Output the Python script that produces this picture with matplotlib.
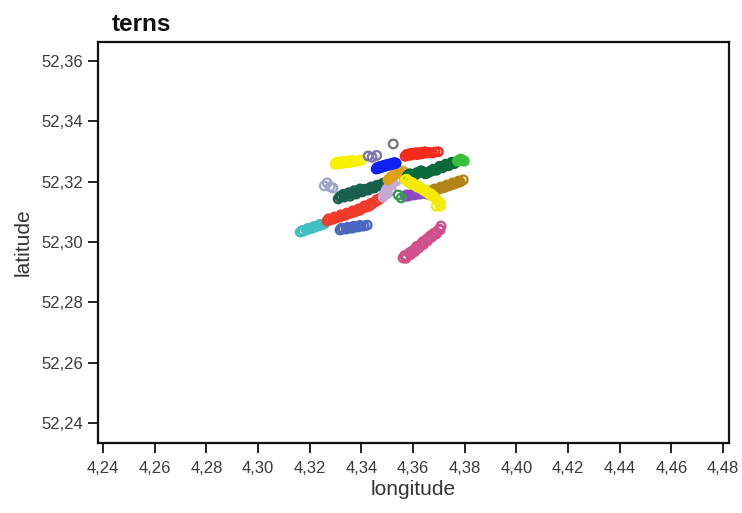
import matplotlib
matplotlib.use("Agg")
import matplotlib.pyplot as plt
from matplotlib.ticker import FuncFormatter

plt.rcParams['font.family'] = ['Liberation Sans', 'DejaVu Sans']

# GPS fixes per tern (longitude, latitude), drawing order back to front
pink_lon = [4.3561, 4.3567, 4.3573, 4.3585, 4.3591, 4.3596, 4.3608, 4.3613, 4.3619, 4.3631, 4.3637, 4.3643,
            4.3654, 4.3660, 4.3666, 4.3677, 4.3683, 4.3689, 4.3701, 4.3708,
            4.3572, 4.3590, 4.3606, 4.3622, 4.3640, 4.3656, 4.3672, 4.3690, 4.3704]
pink_lat = [52.2947, 52.2955, 52.2954, 52.2964, 52.2961, 52.2970, 52.2977, 52.2985, 52.2987, 52.2993, 52.3000, 52.3003,
            52.3010, 52.3014, 52.3020, 52.3026, 52.3030, 52.3033, 52.3043, 52.3053,
            52.2946, 52.2958, 52.2968, 52.2980, 52.2992, 52.3004, 52.3016, 52.3027, 52.3040]

cyan_lon = [4.3163, 4.3170, 4.3174, 4.3186, 4.3192, 4.3197, 4.3209, 4.3215, 4.3221, 4.3232, 4.3238, 4.3244, 4.3256]
cyan_lat = [52.3033, 52.3038, 52.3036, 52.3040, 52.3045, 52.3043, 52.3046, 52.3051, 52.3050, 52.3053, 52.3058, 52.3056, 52.3060]

steel_lon = [4.3317, 4.3323, 4.3329, 4.3341, 4.3347, 4.3352, 4.3364, 4.3370, 4.3376, 4.3387, 4.3393, 4.3399, 4.3410, 4.3422]
steel_lat = [52.3040, 52.3046, 52.3043, 52.3043, 52.3049, 52.3046, 52.3046, 52.3052, 52.3050, 52.3050, 52.3055, 52.3053, 52.3053, 52.3056]

red_low_lon = [4.3267, 4.3273, 4.3279, 4.3290, 4.3296, 4.3302, 4.3314, 4.3320, 4.3325, 4.3337, 4.3343, 4.3348,
               4.3360, 4.3366, 4.3372, 4.3383, 4.3389, 4.3395, 4.3406, 4.3412, 4.3418, 4.3430, 4.3436, 4.3441,
               4.3453, 4.3459, 4.3465, 4.3476]
red_low_lat = [52.3070, 52.3077, 52.3073, 52.3076, 52.3083, 52.3080, 52.3083, 52.3090, 52.3086, 52.3089, 52.3096, 52.3093,
               52.3096, 52.3103, 52.3099, 52.3103, 52.3110, 52.3106, 52.3113, 52.3120, 52.3116, 52.3119, 52.3128, 52.3126,
               52.3133, 52.3140, 52.3139, 52.3146]

teal_lon = [4.3310, 4.3316, 4.3321, 4.3333, 4.3339, 4.3345, 4.3356, 4.3362, 4.3368, 4.3379, 4.3385, 4.3391,
            4.3403, 4.3409, 4.3414, 4.3426, 4.3432, 4.3437, 4.3449, 4.3455, 4.3461, 4.3472, 4.3478, 4.3484, 4.3495,
            4.3330, 4.3350, 4.3372, 4.3395]
teal_lat = [52.3143, 52.3150, 52.3152, 52.3149, 52.3156, 52.3158, 52.3152, 52.3160, 52.3162, 52.3159, 52.3166, 52.3168,
            52.3166, 52.3172, 52.3175, 52.3172, 52.3178, 52.3182, 52.3179, 52.3185, 52.3188, 52.3186, 52.3191, 52.3195, 52.3192,
            52.3158, 52.3163, 52.3170, 52.3176]

lavender_lon = [4.3484, 4.3488, 4.3492, 4.3495, 4.3499, 4.3505, 4.3511, 4.3517, 4.3523, 4.3534, 4.3500, 4.3515]
lavender_lat = [52.3149, 52.3156, 52.3162, 52.3169, 52.3176, 52.3181, 52.3186, 52.3191, 52.3196, 52.3202, 52.3160, 52.3172]

orange_lon = [4.3503, 4.3509, 4.3515, 4.3520, 4.3526, 4.3532, 4.3538, 4.3544, 4.3550, 4.3561]
orange_lat = [52.3206, 52.3211, 52.3215, 52.3219, 52.3222, 52.3226, 52.3229, 52.3231, 52.3232, 52.3235]

green_lon = [4.3577, 4.3585, 4.3592, 4.3600, 4.3608, 4.3615, 4.3623, 4.3631, 4.3639, 4.3647, 4.3654, 4.3662,
             4.3670, 4.3677, 4.3685, 4.3691, 4.3697, 4.3703, 4.3708, 4.3714, 4.3720, 4.3726, 4.3732, 4.3738,
             4.3743, 4.3749, 4.3755, 4.3760, 4.3766]
green_lat = [52.3219, 52.3226, 52.3225, 52.3220, 52.3222, 52.3230, 52.3229, 52.3236, 52.3232, 52.3226, 52.3228, 52.3233,
             52.3235, 52.3241, 52.3239, 52.3238, 52.3245, 52.3251, 52.3249, 52.3246, 52.3252, 52.3258, 52.3255, 52.3253,
             52.3259, 52.3264, 52.3262, 52.3260, 52.3265]

lime_lon = [4.3772, 4.3778, 4.3784, 4.3790, 4.3798]
lime_lat = [52.3268, 52.3272, 52.3275, 52.3272, 52.3268]

olive_lon = [4.3654, 4.3660, 4.3666, 4.3677, 4.3683, 4.3689, 4.3701, 4.3707, 4.3712, 4.3724, 4.3730, 4.3736,
             4.3747, 4.3753, 4.3759, 4.3770, 4.3776, 4.3782, 4.3794]
olive_lat = [52.3162, 52.3169, 52.3166, 52.3169, 52.3176, 52.3172, 52.3176, 52.3182, 52.3179, 52.3182, 52.3189, 52.3186,
             52.3189, 52.3196, 52.3192, 52.3196, 52.3202, 52.3199, 52.3206]

purple_lon = [4.3569, 4.3575, 4.3581, 4.3592, 4.3598, 4.3604, 4.3616, 4.3621, 4.3627, 4.3643, 4.3654]
purple_lat = [52.3152, 52.3156, 52.3152, 52.3156, 52.3160, 52.3156, 52.3159, 52.3163, 52.3159, 52.3162, 52.3159]

mint_lon = [4.3542, 4.3554]
mint_lat = [52.3156, 52.3146]

yellow_e_lon = [4.3569, 4.3575, 4.3581, 4.3587, 4.3592, 4.3598, 4.3604, 4.3610, 4.3616, 4.3622, 4.3627, 4.3633,
                4.3639, 4.3645, 4.3650, 4.3656, 4.3662, 4.3668, 4.3674, 4.3680, 4.3685, 4.3697, 4.3705, 4.3689, 4.3705]
yellow_e_lat = [52.3206, 52.3208, 52.3199, 52.3200, 52.3192, 52.3196, 52.3189, 52.3188, 52.3182, 52.3184, 52.3179, 52.3177,
                52.3172, 52.3173, 52.3166, 52.3165, 52.3159, 52.3160, 52.3152, 52.3151, 52.3146, 52.3136, 52.3129, 52.3119, 52.3119]

blue_lon = [4.3457, 4.3461, 4.3465, 4.3468, 4.3472, 4.3476, 4.3480, 4.3484, 4.3488, 4.3492, 4.3496, 4.3500,
            4.3503, 4.3507, 4.3511, 4.3515, 4.3519, 4.3523, 4.3526, 4.3530, 4.3534]
blue_lat = [52.3242, 52.3247, 52.3244, 52.3249, 52.3246, 52.3251, 52.3248, 52.3253, 52.3251, 52.3255, 52.3252, 52.3257,
            52.3254, 52.3258, 52.3256, 52.3260, 52.3258, 52.3262, 52.3259, 52.3263, 52.3261]

red_up_lon = [4.3569, 4.3575, 4.3581, 4.3587, 4.3592, 4.3598, 4.3604, 4.3610, 4.3616, 4.3622, 4.3627, 4.3633,
              4.3639, 4.3645, 4.3650, 4.3662, 4.3674, 4.3685, 4.3697]
red_up_lat = [52.3284, 52.3290, 52.3287, 52.3293, 52.3288, 52.3294, 52.3291, 52.3296, 52.3290, 52.3296, 52.3292, 52.3297,
              52.3294, 52.3299, 52.3295, 52.3297, 52.3295, 52.3298, 52.3299]

yellow_w_lon = [4.3298, 4.3302, 4.3306, 4.3310, 4.3314, 4.3318, 4.3321, 4.3325, 4.3329, 4.3333, 4.3337, 4.3341,
                4.3345, 4.3349, 4.3352, 4.3356, 4.3360, 4.3364, 4.3368, 4.3376, 4.3387, 4.3399]
yellow_w_lat = [52.3258, 52.3263, 52.3260, 52.3265, 52.3259, 52.3264, 52.3262, 52.3266, 52.3261, 52.3266, 52.3263, 52.3268,
                52.3264, 52.3268, 52.3263, 52.3268, 52.3266, 52.3270, 52.3267, 52.3266, 52.3269, 52.3271]

slate_lon = [4.3426, 4.3441, 4.3459]
slate_lat = [52.3285, 52.3281, 52.3287]

haze_lon = [4.3256, 4.3267, 4.3279, 4.3290]
haze_lat = [52.3186, 52.3196, 52.3183, 52.3179]

grey_lon = [4.3523]
grey_lat = [52.3325]

birds = [
    (pink_lon, pink_lat, '#d0508c'),
    (cyan_lon, cyan_lat, '#3fbfc4'),
    (steel_lon, steel_lat, '#4a68c0'),
    (red_low_lon, red_low_lat, '#f03a2a'),
    (teal_lon, teal_lat, '#17604e'),
    (lavender_lon, lavender_lat, '#c8a8d4'),
    (orange_lon, orange_lat, '#e0a018'),
    (green_lon, green_lat, '#0a6a3c'),
    (lime_lon, lime_lat, '#38c038'),
    (olive_lon, olive_lat, '#b08418'),
    (purple_lon, purple_lat, '#8a48c4'),
    (mint_lon, mint_lat, '#30a050'),
    (yellow_e_lon, yellow_e_lat, '#f4ec00'),
    (blue_lon, blue_lat, '#1020f0'),
    (red_up_lon, red_up_lat, '#f42a1c'),
    (yellow_w_lon, yellow_w_lat, '#f8f000'),
    (slate_lon, slate_lat, '#7a78a8'),
    (haze_lon, haze_lat, '#a0a4c8'),
    (grey_lon, grey_lat, '#787878'),
]

x_ticks = [4.24, 4.26, 4.28, 4.30, 4.32, 4.34, 4.36, 4.38, 4.40, 4.42, 4.44, 4.46, 4.48]
y_ticks = [52.24, 52.26, 52.28, 52.30, 52.32, 52.34, 52.36]

fig = plt.figure(figsize=(7.42, 5.13), dpi=100)
ax = fig.add_axes([0.1321, 0.1365, 0.8504, 0.7817])

for lon, lat, col in birds:
    ax.scatter(lon, lat, s=38, facecolors='none', edgecolors=col, linewidths=1.7, zorder=3)

ax.set_xlim(4.2380, 4.4823)
ax.set_ylim(52.2334, 52.3663)
ax.set_xticks(x_ticks)
ax.set_yticks(y_ticks)

comma = FuncFormatter(lambda v, _: f"{v:.2f}".replace('.', ','))
ax.xaxis.set_major_formatter(comma)
ax.yaxis.set_major_formatter(comma)

for side in ax.spines.values():
    side.set_linewidth(1.6)
    side.set_color('#111111')

ax.tick_params(axis='both', direction='out', length=7, width=1.4, color='#222222',
               labelsize=12, labelcolor='#3a3a3a')
ax.tick_params(axis='x', pad=6)
ax.tick_params(axis='y', pad=4)

ax.set_xlabel('longitude', fontsize=15, color='#333333', labelpad=3)
ax.set_ylabel('latitude', fontsize=15, color='#333333', labelpad=6)
fig.text(0.151, 0.953, 'terns', fontsize=17.5, fontweight='bold', color='#111111',
         ha='left', va='center')

fig.savefig('out.png', dpi=100, facecolor='white')
